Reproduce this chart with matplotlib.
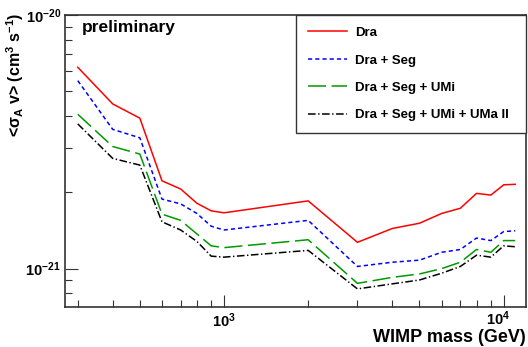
import matplotlib
matplotlib.use('Agg')
import matplotlib.pyplot as plt
import matplotlib.transforms as mtransforms
from matplotlib.ticker import LogLocator, NullFormatter, FixedLocator

plt.rcParams['font.family'] = 'Liberation Sans'
plt.rcParams['font.weight'] = 'bold'
plt.rcParams['mathtext.fontset'] = 'custom'
plt.rcParams['mathtext.rm'] = 'Liberation Sans:bold'
plt.rcParams['mathtext.bf'] = 'Liberation Sans:bold'
plt.rcParams['mathtext.it'] = 'Liberation Sans:bold'
plt.rcParams['lines.scale_dashes'] = False

# WIMP masses (GeV)
masa = [300, 400, 500, 600, 700, 800, 900, 1000, 2000, 3000, 4000, 5000,
        6000, 7000, 8000, 9000, 10000, 11000]

# upper limits on <sigma_A v> in units of 1e-21 cm^3 s^-1
dra = [6.22, 4.46, 3.92, 2.22, 2.06, 1.81, 1.69, 1.66, 1.85, 1.27, 1.44, 1.51,
       1.65, 1.73, 1.98, 1.95, 2.14, 2.15]
dra_seg = [5.51, 3.54, 3.28, 1.88, 1.80, 1.65, 1.47, 1.42, 1.55, 1.02, 1.06, 1.08,
           1.16, 1.19, 1.32, 1.29, 1.40, 1.41]
dra_seg_umi = [4.06, 3.03, 2.83, 1.64, 1.55, 1.37, 1.23, 1.21, 1.30, 0.875, 0.924, 0.953,
               1.00, 1.06, 1.19, 1.16, 1.29, 1.29]
dra_seg_umi_uma = [3.72, 2.72, 2.56, 1.53, 1.42, 1.28, 1.12, 1.11, 1.18, 0.832, 0.871, 0.902,
                   0.959, 1.02, 1.13, 1.11, 1.23, 1.22]

etykiety = ['Dra', 'Dra + Seg', 'Dra + Seg + UMi', 'Dra + Seg + UMi + UMa II']
serie = [dra, dra_seg, dra_seg_umi, dra_seg_umi_uma]
kolory = ['#ff0000', '#0000ff', '#009a00', '#000000']
style = ['-', (0, (3, 2.2)), (0, (13, 4)), (0, (5.5, 1.8, 1, 1.8))]

fig = plt.figure(figsize=(5.28, 3.47), dpi=100)
ax = fig.add_axes([0.1231, 0.1153, 0.8731, 0.8415])

for y, kol, st, lab in zip(serie, kolory, style, etykiety):
    ax.plot(masa, [v * 1e-21 for v in y], color=kol, linestyle=st, linewidth=1.1, label=lab)

ax.set_xscale('log')
ax.set_yscale('log')
ax.set_xlim(270, 12020)
ax.set_ylim(7.06e-22, 1e-20)

# ticks ROOT-style: inside, only left and bottom
ax.tick_params(which='both', direction='in', top=False, right=False, color='#333333')
ax.tick_params(which='major', length=9, width=0.8, labelsize=10.5)
ax.tick_params(axis='x', which='major', pad=3)
ax.tick_params(axis='y', which='major', pad=3)
ax.tick_params(which='minor', length=5, width=0.8)
ax.xaxis.set_major_locator(FixedLocator([1e3, 1e4]))
ax.xaxis.set_minor_locator(LogLocator(base=10, subs=range(2, 10)))
ax.xaxis.set_minor_formatter(NullFormatter())
ax.yaxis.set_major_locator(FixedLocator([1e-21, 1e-20]))
ax.yaxis.set_minor_locator(LogLocator(base=10, subs=range(2, 10)))
ax.yaxis.set_minor_formatter(NullFormatter())
ax.set_xticklabels([r'$\mathbf{10^{3}}$', r'$\mathbf{10^{4}}$'])
ax.set_yticklabels([r'$\mathbf{10^{-21}}$', r'$\mathbf{10^{-20}}$'])
for s in ax.spines.values():
    s.set_linewidth(1.2)
    s.set_color('#333333')

# 10^4 sits a little to the left and higher, like in ROOT
lab4 = ax.get_xticklabels()[1]
lab4.set_transform(lab4.get_transform() +
                   mtransforms.ScaledTranslation(-6 / 100, 2 / 100, fig.dpi_scale_trans))

ax.set_xlabel('WIMP mass (GeV)', fontsize=13, fontweight='bold', loc='right')
ax.xaxis.set_label_coords(1.0, -0.075)
ax.set_ylabel(r'<$\sigma_{\mathbf{A}}$ v> (cm$^{\mathbf{3}}$ s$^{\mathbf{-1}}$)',
              fontsize=11.5, fontweight='bold', loc='top')
ax.yaxis.set_label_coords(-0.085, 1.01)

ax.text(0.037, 0.957, 'preliminary', transform=ax.transAxes, fontsize=12.5,
        fontweight='bold', va='center', ha='left')

leg = ax.legend(loc='upper left', bbox_to_anchor=(0.501, 0.599, 0.499, 0.401),
                mode='expand', borderaxespad=0, fontsize=9.5, handlelength=3.0,
                handletextpad=0.6, labelspacing=1.15, borderpad=0.9,
                fancybox=False, framealpha=1, edgecolor='#333333')
leg.get_frame().set_linewidth(1.0)

plt.savefig('out.png', dpi=100)
